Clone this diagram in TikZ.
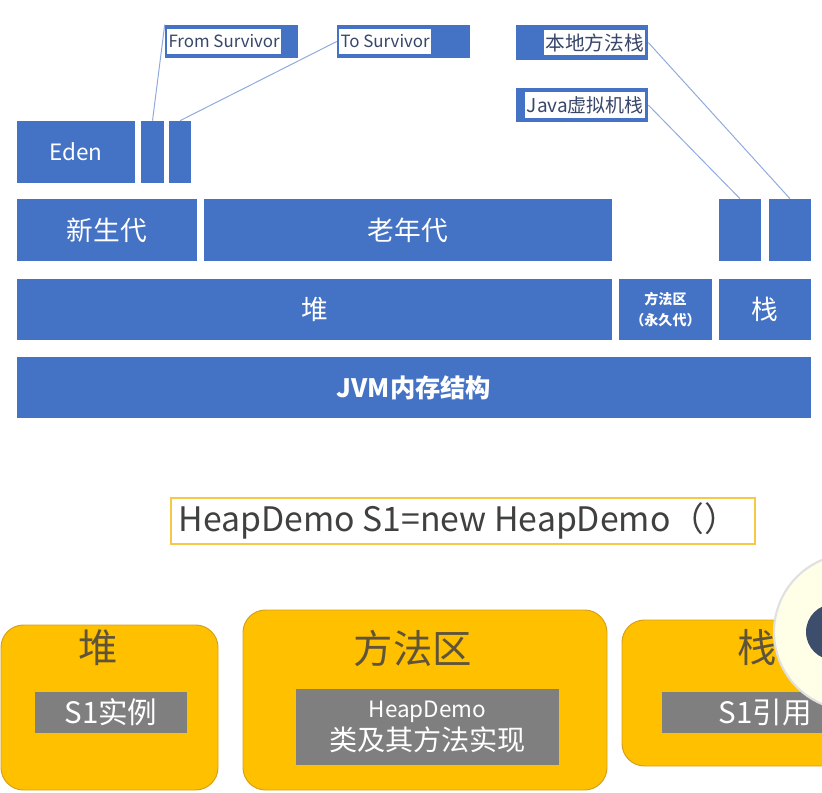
\documentclass[tikz,border=0pt]{standalone}
\usepackage{fontspec}
\setmainfont{Noto Sans CJK SC}
\usetikzlibrary{positioning, fit}
\definecolor{jvmblue}{RGB}{68,114,196}
\definecolor{linkblue}{RGB}{143,170,220}
\definecolor{tagink}{RGB}{55,70,105}
\definecolor{boxgold}{RGB}{255,192,0}
\definecolor{goldedge}{RGB}{214,160,30}
\definecolor{codegold}{RGB}{247,200,70}
\definecolor{cellgray}{RGB}{127,127,127}
\definecolor{headink}{RGB}{95,84,58}
\definecolor{avatar}{RGB}{60,78,108}

\begin{document}
\begin{tikzpicture}[
    x=0.025cm, y=-0.025cm,
    blk/.style={rectangle, fill=jvmblue, inner sep=0pt},
    blktext/.style={text=white, inner sep=0pt, align=center, font=\fontsize{19}{22}\selectfont},
    tag/.style={rectangle, fill=jvmblue, inner sep=0pt},
    tagtext/.style={rectangle, fill=white, inner sep=1pt, minimum height=18pt,
                    text=tagink, font=\fontsize{12}{14}\selectfont},
    link/.style={draw=linkblue, line width=0.7pt},
    area/.style={rectangle, rounded corners=16pt, fill=boxgold, draw=goldedge,
                 line width=0.7pt, inner sep=0pt},
    cell/.style={rectangle, fill=cellgray, inner sep=0pt},
    celltext/.style={text=white, inner sep=0pt, align=center, font=\fontsize{21}{28}\selectfont},
    head/.style={text=headink, font=\fontsize{28}{32}\selectfont}
]
    \useasboundingbox (0,0) rectangle (822,793);
    \clip (0,0) rectangle (822,793);

    % memory blocks
    \node[blk, fit={(17,121) (135,183)},
          label={[blktext, font=\fontsize{16}{19}\selectfont]center:Eden}] (eden) {};
    \node[blk, fit={(141,121) (164,183)}]  (fromsv) {};
    \node[blk, fit={(169,121) (191,183)}]  (tosv)  {};
    \node[blk, fit={(17,199) (197,261)}, label={[blktext]center:新生代}] (young) {};
    \node[blk, fit={(204,199) (612,261)}, label={[blktext]center:老年代}] (old) {};
    \node[blk, fit={(719,199) (761,261)}]  (jstk)  {};
    \node[blk, fit={(769,199) (811,261)}]  (nstk)  {};
    \node[blk, fit={(17,279) (612,340)}, label={[blktext]center:堆}] (heap) {};
    \node[blk, fit={(619,279) (712,340)},
          label={[blktext, font=\fontsize{10}{15}\selectfont\bfseries]center:{方法区\\（永久代）}}] (meth) {};
    \node[blk, fit={(719,279) (811,340)}, label={[blktext]center:栈}] (stack) {};
    \node[blk, fit={(17,357) (811,418)},
          label={[blktext, font=\fontsize{18}{21}\selectfont\bfseries]center:JVM内存结构}] (jvm) {};

    % callout tags
    \node[tag, fit={(165,25) (298,58)}] (fromtag) {};
    \node[tagtext, anchor=west] at ([xshift=1.5pt]fromtag.west) {From Survivor};
    \node[tag, fit={(337,25) (470,58)}] (totag) {};
    \node[tagtext, anchor=west] at ([xshift=1.5pt]totag.west) {To Survivor};
    \node[tag, fit={(516,25) (648,60)}] (nattag) {};
    \node[tagtext, anchor=east, font=\fontsize{14}{16}\selectfont] at ([xshift=-2pt]nattag.east) {本地方法栈};
    \node[tag, fit={(516,88) (648,122)}] (jvmtag) {};
    \node[tagtext, anchor=east, font=\fontsize{13.5}{16}\selectfont] at ([xshift=-2pt]jvmtag.east) {Java虚拟机栈};

    \draw[link] (fromtag.north west) -- (fromsv.north);
    \draw[link] (totag.west) -- (tosv.north);
    \draw[link] (nattag.east) -- (nstk.north);
    \draw[link] (jvmtag.east) -- (jstk.north);

    % example statement
    \node[draw=codegold, line width=2pt, inner sep=0pt, fit={(171,498) (755,544)}] (codebox) {};
    \node[anchor=west, text=black!75, font=\fontsize{24}{28}\selectfont] (code)
        at ([xshift=3pt]codebox.west) {HeapDemo S1=new HeapDemo（）};

    % where the parts live
    \node[area, fit={(1,625) (218,790)}]   (heaparea)  {};
    \node[head] at (98,648) {堆};
    \node[cell, fit={(35,692) (187,733)}, label={[celltext]center:S1实例}] (inst) {};

    \node[area, fit={(243,610) (607,790)}] (metharea) {};
    \node[head] at (413,648) {方法区};
    \node[cell, fit={(296,689) (559,765)},
          label={[celltext, font=\fontsize{20}{23}\selectfont]center:{{\fontsize{16}{19}\selectfont HeapDemo}\\类及其方法实现}}] (cls) {};

    \node[area, fit={(622,620) (892,766)}] (stackarea) {};
    \node[head] at (757,648) {栈};
    \node[cell, fit={(662,692) (868,733)}, label={[celltext]center:S1引用}] (ref) {};

    % presenter overlay
    \draw[draw=black!12, line width=1.5pt, fill=white!90!yellow] (852,632) circle (78);
    \fill[fill=avatar] (834,632) circle (28);
\end{tikzpicture}
\end{document}
